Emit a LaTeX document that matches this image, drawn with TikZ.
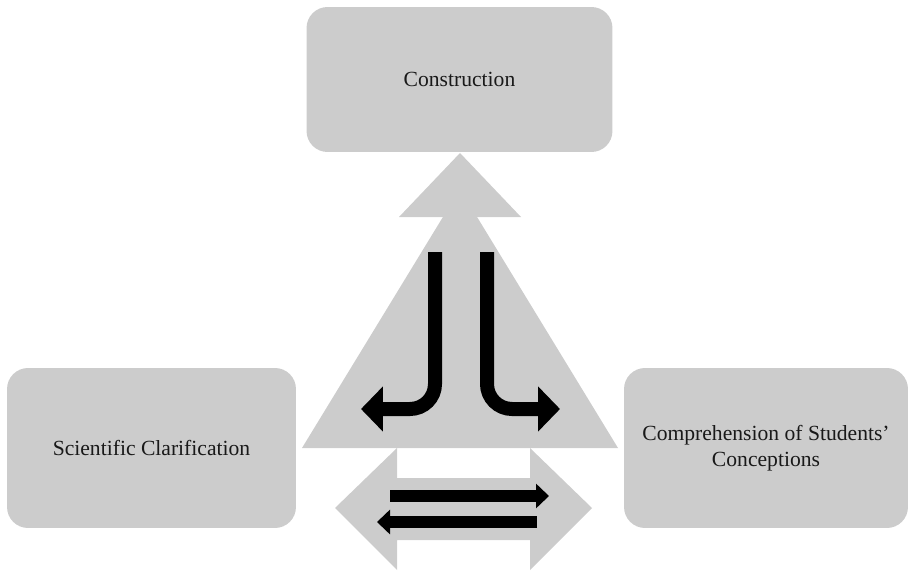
\documentclass[tikz,border=0pt]{standalone}
\usepackage{fontspec}
\setmainfont{Liberation Serif}
\tikzset{
every picture/.style={
line width=1pt
}}
\usetikzlibrary{arrows.meta}

\begin{document}
\begin{tikzpicture}[x=0.02cm, y=-0.02cm,
block/.style = {rectangle, rounded corners=0.42cm, fill=black!20, align=center,
  font=\fontsize{12.3}{14.8}\selectfont, text=black!90},
panel/.style = {fill=black!20},
elbow/.style = {line width=0.28cm, rounded corners=0.5cm,
  -{Triangle[length=0.44cm, width=0.88cm]}},
flow/.style = {line width=0.24cm, -{Triangle[length=0.26cm, width=0.48cm]}}]

\useasboundingbox (0,0) rectangle (910,571);

\node[block, minimum width=6.12cm, minimum height=2.9cm] (con) at (459.5,79.5) {Construction};
\node[block, minimum width=5.78cm, minimum height=3.2cm] (sci) at (151.5,448) {Scientific Clarification};
\node[block, minimum width=5.68cm, minimum height=3.2cm] (com) at (766,448) {Comprehension of Students'\\Conceptions};

\fill[panel] (460,189) -- (618,448) -- (302,448) -- cycle;
\fill[panel] (460,153) -- (521,217) -- (399,217) -- cycle;
\fill[panel] (335,508) -- (397,448) -- (397,478) -- (530,478) -- (530,448) -- (592,508)
  -- (530,570) -- (530,540) -- (397,540) -- (397,570) -- cycle;

\coordinate (lt) at (435,252);
\coordinate (le) at (361,409);
\coordinate (rt) at (487,252);
\coordinate (re) at (560,409);
\coordinate (ts) at (390,496);
\coordinate (te) at (549,496);
\coordinate (bs) at (537,522);
\coordinate (be) at (377,522);

\draw[elbow] (lt) |- (le);
\draw[elbow] (rt) |- (re);
\draw[flow] (ts) -- (te);
\draw[flow] (bs) -- (be);
\end{tikzpicture}
\end{document}
